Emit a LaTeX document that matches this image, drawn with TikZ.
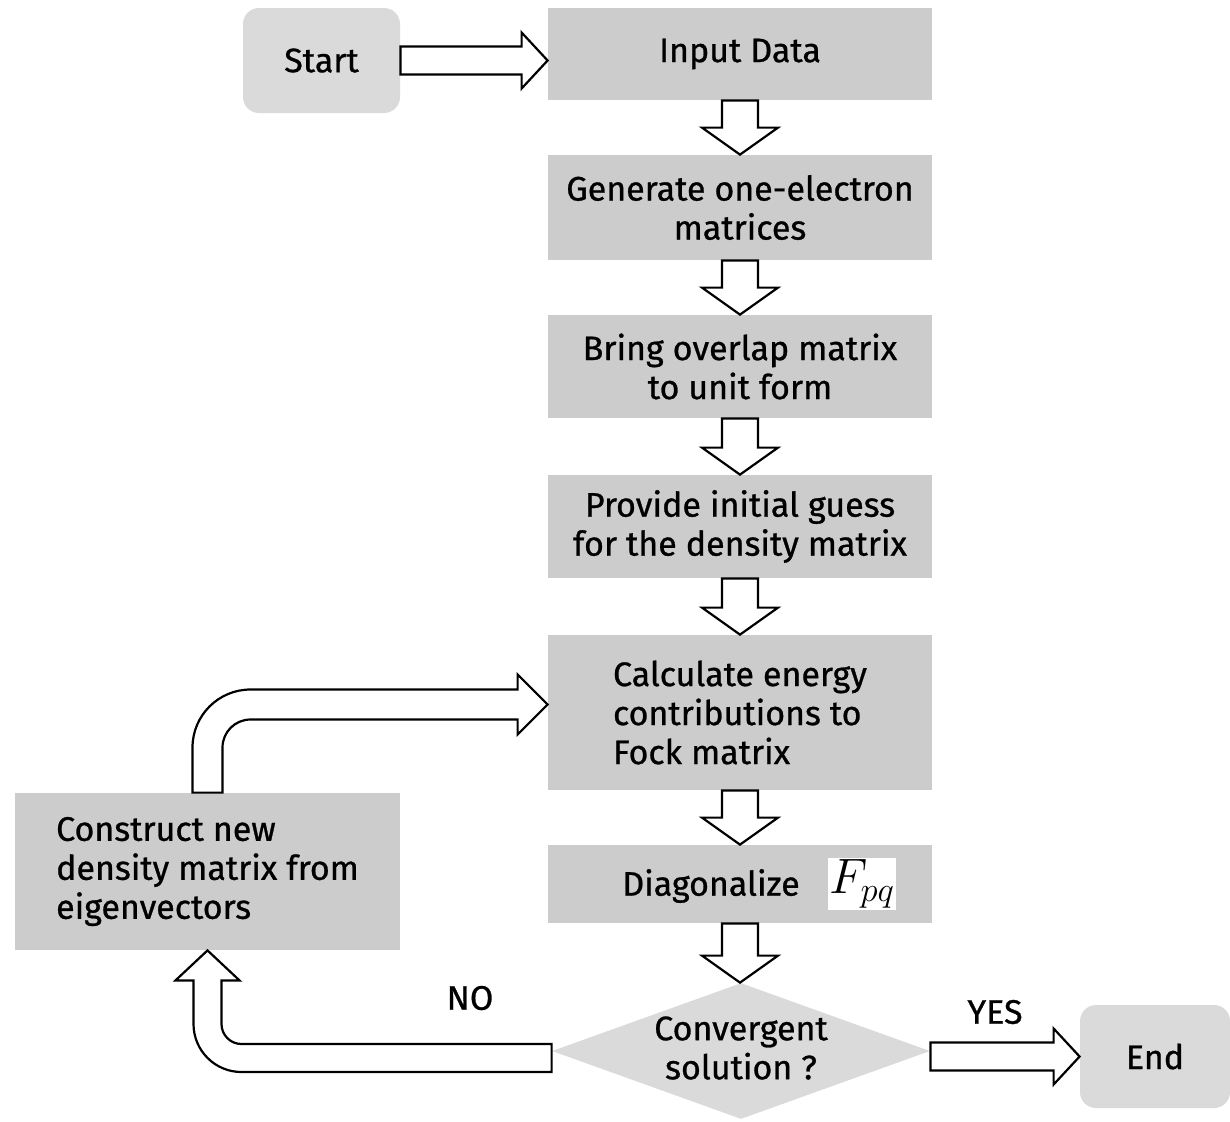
\documentclass[tikz,border=0pt]{standalone}
\usepackage{fontspec}
\setmainfont{Fira Sans}[FakeBold=0.8]
\usetikzlibrary{calc,shapes.geometric}

\definecolor{boxgray}{RGB}{204,204,204}
\definecolor{termgray}{RGB}{218,218,218}

\newcommand\boxfont{\fontsize{17}{19.5}\selectfont}

\tikzset{
  proc/.style={fill=boxgray, minimum width=192pt, align=center, inner sep=0pt},
  term/.style={fill=termgray, rounded corners=8pt, inner sep=0pt},
  decision/.style={diamond, fill=termgray, minimum width=189pt, minimum height=68pt, inner sep=0pt},
  blockarrow/.style={draw=black, fill=white, line width=1.1pt, line join=miter}
}

% block arrow straight down, from one node to the next
\newcommand\vblock[2]{%
  \draw[blockarrow] let \p1=(#1.south), \p2=(#2.north) in
    (\x1-9pt,\y1) -- (\x1+9pt,\y1) -- (\x1+9pt,\y2+13.5pt) -- (\x1+19pt,\y2+13.5pt)
    -- (\x1,\y2) -- (\x1-19pt,\y2+13.5pt) -- (\x1-9pt,\y2+13.5pt) -- cycle;}
% block arrow to the right
\newcommand\hblock[2]{%
  \draw[blockarrow] let \p1=(#1), \p2=(#2) in
    (\x1,\y1+7pt) -- (\x2-13pt,\y1+7pt) -- (\x2-13pt,\y1+14pt) -- (\x2,\y1)
    -- (\x2-13pt,\y1-14pt) -- (\x2-13pt,\y1-7pt) -- (\x1,\y1-7pt) -- cycle;}

\begin{document}
\begin{tikzpicture}[x=0.5pt, y=-0.5pt, every node/.style={font=\boxfont}]
        \useasboundingbox (0,0) rectangle (1230,1121);

        % Boxes
        \node[term, minimum width=78.5pt, minimum height=52.5pt] (start) at (321.5,60.5) {Start};
        \node[proc, minimum height=46pt] (input) at (740,54) {Input Data};
        \node[proc, minimum height=52.5pt] (gen) at (740,207.5) {Generate one-electron\\matrices};
        \node[proc, minimum height=51.5pt] (bring) at (740,366.5) {Bring overlap matrix\\to unit form};
        \node[proc, minimum height=51.5pt] (guess) at (740,526.5) {Provide initial guess\\for the density matrix};
        \node[proc, minimum height=77.5pt, align=left] (fock) at (740,712.5) {Calculate energy\\contributions to\\Fock matrix};
        \node[proc, minimum height=39pt] (diag) at (740,884) {};
        \node (diagtxt) at (711,886) {Diagonalize};
        \node[fill=white, minimum width=34pt, minimum height=26pt, inner sep=0pt, font=\fontsize{24}{26}\selectfont] (fpq) at (862,884) {$F_{pq}$};
        \node[decision] (conv) at (741,1051) {};
        \node[align=center] (convtxt) at (741,1048) {Convergent\\solution ?};
        \node[term, minimum width=75pt, minimum height=51.5pt] (endn) at (1155,1056.5) {End};
        \node[proc, minimum width=192.5pt, minimum height=78.5pt, align=left] (newdens) at (207.5,871.5) {Construct new\\density matrix from\\eigenvectors};

        % Arrows
        \hblock{start.east}{input.west}
        \vblock{input}{gen}
        \vblock{gen}{bring}
        \vblock{bring}{guess}
        \vblock{guess}{fock}
        \vblock{fock}{diag}
        \vblock{diag}{conv}
        \hblock{conv.east |- endn.west}{endn.west}

        % loop back to the Fock matrix
        \draw[blockarrow] let \p1=(newdens.north), \p2=($(fock.west)+(0,4pt)$) in
          (\x1-7.5pt,\y1) -- (\x1-7.5pt,\y2-21.5pt) arc[start angle=180, end angle=90, radius=29pt]
          -- (\x2-15pt,\y2+7.5pt) -- (\x2-15pt,\y2+15pt) -- (\x2,\y2) -- (\x2-15pt,\y2-15pt)
          -- (\x2-15pt,\y2-7.5pt) -- (\x1+21.5pt,\y2-7.5pt) arc[start angle=90, end angle=180, radius=14pt]
          -- (\x1+7.5pt,\y1) -- cycle;

        % NO branch
        \draw[blockarrow] let \p1=(conv.west), \p2=(newdens.south) in
          (\x1,\y1+3.5pt) -- (\x2+17pt,\y1+3.5pt) arc[start angle=270, end angle=180, radius=10pt]
          -- (\x2+7pt,\y2-15pt) -- (\x2+16pt,\y2-15pt) -- (\x2,\y2) -- (\x2-16pt,\y2-15pt)
          -- (\x2-7pt,\y2-15pt) -- (\x2-7pt,\y1+13.5pt) arc[start angle=180, end angle=270, radius=24pt]
          -- (\x1,\y1-10.5pt) -- cycle;

        % Labels
        \node (yes) at (995,1012) {YES};
        \node (no) at (470,998) {NO};
\end{tikzpicture}
\end{document}
